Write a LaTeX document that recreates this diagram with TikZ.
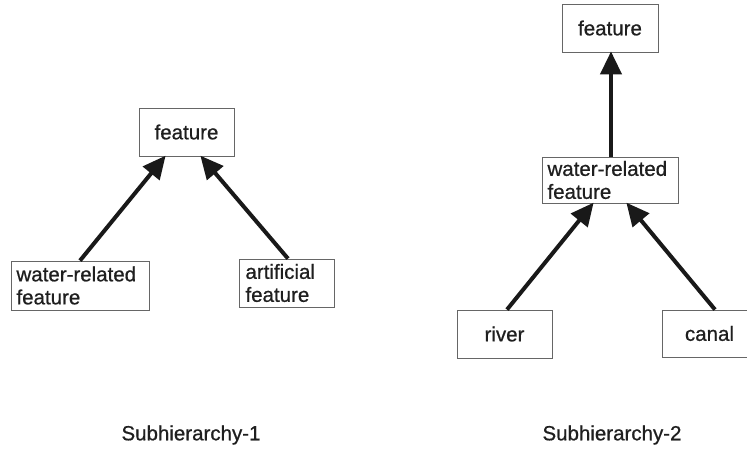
\documentclass[tikz,border=0pt]{standalone}
\usepackage{fontspec}
\newfontfamily\diagfont{Liberation Sans}[FakeBold=0.7]
\usetikzlibrary{arrows.meta}
\begin{document}
\begin{tikzpicture}[x=1pt,y=-1pt,
  every node/.style={font=\diagfont\fontsize{20.5}{23}\selectfont, text=black!88},
  concept/.style={draw=black!60, line width=0.8pt, fill=white, inner sep=0pt,
    minimum height=48pt, align=left},
  isa/.style={line width=4pt, draw=black!90,
    -{Triangle[length=23pt,width=21pt]}, shorten >=-1pt},
  caption/.style={anchor=center}]
  \clip (0,0) rectangle (747,450);
  \fill[white] (0,0) rectangle (747,450);

  % first subhierarchy
  \node[concept, minimum width=95pt] (f1) at (186.5,132) {feature};
  \node[concept, minimum width=138pt, minimum height=49pt, text width=127pt] (w1) at (80,285.5) {water-related\\feature};
  \node[concept, minimum width=95pt, text width=82pt] (a1) at (286.5,283) {artificial\\feature};
  \draw[isa] (w1.north) -- ([xshift=-21.5pt]f1.south);
  \draw[isa] ([xshift=1.5pt]a1.north) -- ([xshift=14.5pt]f1.south);
  \node[caption] (c1) at (191,435) {Subhierarchy-1};

  % second subhierarchy
  \node[concept, minimum width=96pt] (f2) at (610,28) {feature};
  \node[concept, minimum width=136pt, minimum height=46pt, text width=125pt] (w2) at (610,180) {water-related\\feature};
  \node[concept, minimum width=95pt] (r2) at (504.5,334) {river};
  \node[concept, minimum width=95pt, minimum height=47pt] (k2) at (709.5,333.5) {canal};
  \draw[isa] ([xshift=1pt]w2.north) -- ([xshift=1pt]f2.south);
  \draw[isa] ([xshift=2.5pt]r2.north) -- ([xshift=-17pt]w2.south);
  \draw[isa] ([xshift=5.5pt]k2.north) -- ([xshift=17pt]w2.south);
  \node[caption] (c2) at (612,435) {Subhierarchy-2};
\end{tikzpicture}
\end{document}
